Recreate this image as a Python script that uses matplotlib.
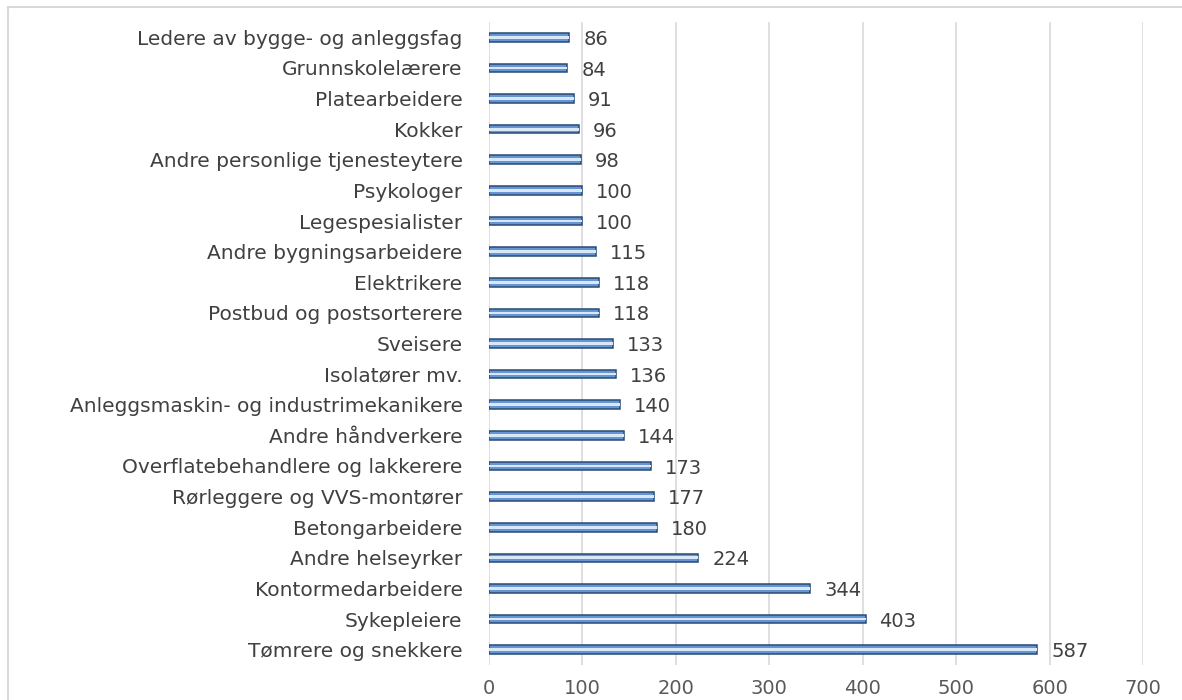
import matplotlib
matplotlib.use("Agg")
import matplotlib.pyplot as plt
from matplotlib.patches import Rectangle

categories = [
    "Tømrere og snekkere", "Sykepleiere", "Kontormedarbeidere", "Andre helseyrker",
    "Betongarbeidere", "Rørleggere og VVS-montører", "Overflatebehandlere og lakkerere",
    "Andre håndverkere", "Anleggsmaskin- og industrimekanikere", "Isolatører mv.",
    "Sveisere", "Postbud og postsorterere", "Elektrikere", "Andre bygningsarbeidere",
    "Legespesialister", "Psykologer", "Andre personlige tjenesteytere", "Kokker",
    "Platearbeidere", "Grunnskolelærere", "Ledere av bygge- og anleggsfag",
]
values = [587, 403, 344, 224, 180, 177, 173, 144, 140, 136, 133, 118, 118, 115,
          100, 100, 98, 96, 91, 84, 86]
xticks = [0, 100, 200, 300, 400, 500, 600, 700]

plt.rcParams['font.family'] = ['DejaVu Sans']

fig = plt.figure(figsize=(11.82, 7.0), dpi=100)
ax = fig.add_axes([489/1182, 1-665/700, (1143-489)/1182, (665-22)/700])

y = list(range(len(categories)))
ax.barh(y, values, height=0.28, color='#6595d2', edgecolor='#2b4a73', linewidth=1.1, zorder=3)
ax.barh(y, values, height=0.09, color='#d9e8f8', linewidth=0, zorder=4)

for yi, v in zip(y, values):
    ax.annotate(str(v), (v, yi), xytext=(10, -1.5), textcoords='offset points',
                va='center', ha='left', fontsize=14, color='#404040')

ax.set_xlim(0, 700)
ax.set_ylim(-0.5, len(categories) - 0.5)
ax.set_xticks(xticks)
ax.set_yticks(y)
ax.set_yticklabels(categories)
ax.tick_params(axis='y', length=0, pad=19, labelsize=14.5, labelcolor='#404040')
ax.tick_params(axis='x', length=0, pad=10, labelsize=14, labelcolor='#595959')
ax.grid(axis='x', color='#d9d9d9', linewidth=1.2, zorder=0)
for s in ax.spines.values():
    s.set_visible(False)

fig.patches.append(Rectangle((8/1182, -0.1), 1.2, 1-7/700+0.1, transform=fig.transFigure,
                             fill=False, edgecolor='#d9d9d9', linewidth=1.5))

fig.savefig("out.png", dpi=100)
